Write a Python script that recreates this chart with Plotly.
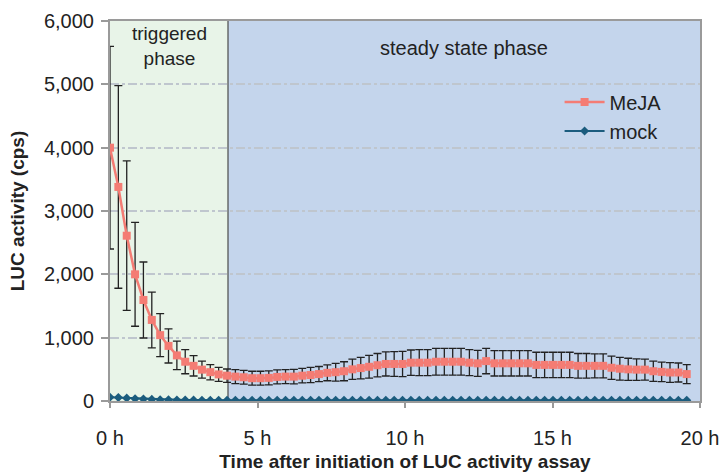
import plotly.graph_objects as go

# Sampling times (h), 17-minute interval
time_h = [round(i * 17 / 60, 3) for i in range(70)]

meja = [4000, 3380, 2610, 2000, 1595, 1280, 1040, 870, 720, 620,
        555, 495, 455, 420, 400, 385, 375, 360, 360, 365,
        380, 385, 385, 400, 410, 425, 445, 455, 470, 500,
        520, 540, 565, 585, 585, 585, 605, 605, 605, 620,
        620, 620, 620, 605, 595, 630, 595, 595, 595, 595,
        595, 570, 570, 570, 570, 570, 555, 555, 555, 555,
        525, 510, 500, 495, 495, 470, 460, 450, 450, 425]

meja_err = [1600, 1600, 1180, 820, 600, 440, 340, 270, 225, 190,
            160, 135, 120, 110, 105, 110, 110, 110, 110, 110,
            110, 110, 115, 115, 120, 120, 125, 140, 150, 160,
            170, 180, 185, 190, 195, 200, 200, 205, 205, 210,
            210, 210, 210, 205, 205, 200, 200, 200, 200, 200,
            200, 200, 200, 200, 200, 200, 195, 195, 190, 190,
            185, 180, 175, 170, 165, 160, 155, 155, 150, 150]

mock = [60, 55, 45, 35, 30, 25, 20, 18, 15, 15,
        15, 12, 12, 12, 12, 10, 10, 10, 10, 10,
        10, 10, 10, 10, 10, 10, 10, 10, 10, 10,
        10, 10, 10, 10, 10, 10, 10, 10, 10, 10,
        10, 10, 10, 10, 10, 10, 10, 10, 10, 10,
        10, 10, 10, 10, 10, 10, 10, 10, 10, 10,
        10, 10, 10, 10, 10, 10, 10, 10, 10, 10]

x_ticks = [0, 5, 10, 15, 20]
x_tick_labels = ["0 h", "5 h", "10 h", "15 h", "20 h"]
y_ticks = [0, 1000, 2000, 3000, 4000, 5000, 6000]
y_tick_labels = ["0", "1,000", "2,000", "3,000", "4,000", "5,000", "6,000"]

phase_boundary = 4
x_max = 20
y_max = 6000

FONT = "Liberation Sans, Arial, sans-serif"
FS = 20

fig = go.Figure()

fig.add_trace(go.Scatter(
    x=time_h, y=meja, name="MeJA", mode="lines+markers",
    line=dict(color="#F47C74", width=2.5),
    marker=dict(symbol="square", size=8, color="#F47C74"),
    error_y=dict(type="data", array=meja_err, visible=True,
                 color="#222222", thickness=1.3, width=4),
))
fig.add_trace(go.Scatter(
    x=time_h, y=mock, name="mock", mode="lines+markers",
    line=dict(color="#1B5C7E", width=2),
    marker=dict(symbol="diamond", size=7, color="#1B5C7E"),
))

# phase regions
fig.add_shape(type="rect", xref="x", yref="y", x0=0, x1=phase_boundary, y0=0, y1=y_max,
              fillcolor="#E8F4E8", line=dict(width=0), layer="below")
fig.add_shape(type="rect", xref="x", yref="y", x0=phase_boundary, x1=x_max, y0=0, y1=y_max,
              fillcolor="#C4D5EC", line=dict(width=0), layer="below")
fig.add_shape(type="line", xref="x", yref="y", x0=phase_boundary, x1=phase_boundary, y0=0, y1=y_max,
              line=dict(color="#4A4A4A", width=1.2), layer="below")

fig.add_annotation(x=phase_boundary / 2, y=y_max, xref="x", yref="y", yanchor="top",
                   text="triggered<br>phase", showarrow=False, yshift=0,
                   font=dict(family=FONT, size=FS - 1, color="#222222"))
fig.add_annotation(x=(phase_boundary + x_max) / 2, y=y_max, xref="x", yref="y", yanchor="top",
                   text="steady state phase", showarrow=False, yshift=-14,
                   font=dict(family=FONT, size=FS, color="#222222"))

fig.update_layout(
    width=723, height=472,
    margin=dict(l=110, r=23, t=21, b=71),
    paper_bgcolor="white", plot_bgcolor="white",
    font=dict(family=FONT, size=FS, color="#222222"),
    legend=dict(x=0.762, y=0.838, xanchor="left", yanchor="top",
                bgcolor="rgba(0,0,0,0)", font=dict(size=FS),
                tracegroupgap=0, itemwidth=40),
    showlegend=True,
)
fig.update_xaxes(
    range=[0, x_max], tickvals=x_ticks, ticktext=x_tick_labels,
    showgrid=False, zeroline=False, automargin=False,
    showline=True, linecolor="#9A9A9A", linewidth=2, mirror=True,
    ticks="outside", ticklen=5, tickcolor="#9A9A9A", tickwidth=2,
    ticklabelstandoff=13,
    title=dict(text="<b>Time after initiation of LUC activity assay</b>",
               font=dict(size=FS - 1), standoff=12),
)
fig.update_yaxes(
    range=[0, y_max], tickvals=y_ticks, ticktext=y_tick_labels,
    showgrid=True, gridcolor="#BFC6CE", griddash="dashdot", gridwidth=1.5,
    zeroline=False, automargin=False,
    showline=True, linecolor="#9A9A9A", linewidth=2, mirror=True,
    ticks="outside", ticklen=7, tickcolor="#9A9A9A", tickwidth=2,
    ticklabelstandoff=3,
    title=dict(text="<b>LUC activity (cps)</b>", font=dict(size=FS - 1), standoff=14),
)

# remove the page's default body margin so the figure fills the window exactly
fig.write_html("out.html",
               config={"displayModeBar": False},
               post_script="document.body.style.margin='0';document.body.style.overflow='hidden';")
